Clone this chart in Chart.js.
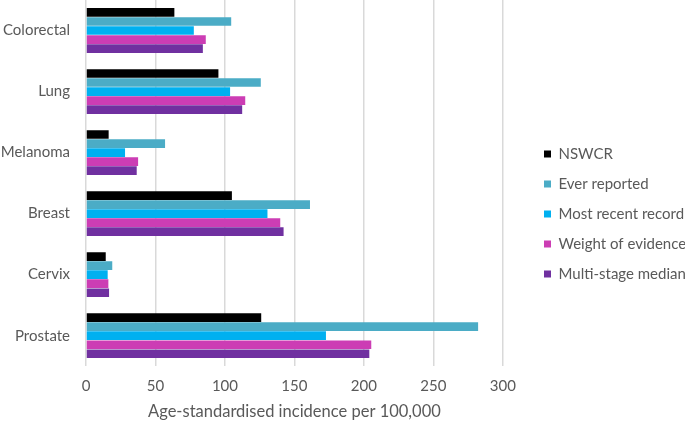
<!DOCTYPE html>
<html lang="en">
<head>
<meta charset="UTF-8">
<title>Age-standardised incidence</title>
<script src="https://cdn.jsdelivr.net/npm/chart.js"></script>
<style>
  body { margin: 0; background: #fff; }
  #wrap { width: 685px; height: 422px; }
</style>
</head>
<body>
<div id="wrap"><canvas id="chart"></canvas></div>
<script>
const categories = ['Colorectal', 'Lung', 'Melanoma', 'Breast', 'Cervix', 'Prostate'];
const nswcr = [63.6, 95.3, 16.3, 105.0, 14.2, 126.1];
const everReported = [104.5, 125.8, 56.9, 161.2, 18.9, 282.2];
const mostRecent = [77.6, 103.7, 28.1, 130.6, 15.6, 172.7];
const weightOfEvidence = [86.2, 114.6, 37.5, 139.8, 16.1, 205.3];
const multiStage = [84.1, 112.4, 36.5, 142.2, 16.6, 203.9];
const xTicks = [0, 50, 100, 150, 200, 250, 300];

const font = "Lato, 'Open Sans', sans-serif";
const grey = '#595959';

function ds(label, data, color) {
    return { label: label, data: data, backgroundColor: color, borderWidth: 0,
             barPercentage: 0.96, categoryPercentage: 0.74 };
}

// move the legend a bit right/down of where the layout puts it
const legendShift = {
    id: 'legendShift',
    afterLayout(chart) {
        const lg = chart.legend;
        const dx = 529 - lg.left;
        lg.left += dx; lg.right += dx;
        lg.top += 3; lg.bottom += 3;
    }
};

new Chart(document.getElementById('chart'), {
    type: 'bar',
    data: {
        labels: categories,
        datasets: [
            ds('NSWCR', nswcr, '#000000'),
            ds('Ever reported', everReported, '#4BACC6'),
            ds('Most recent record', mostRecent, '#00B0F0'),
            ds('Weight of evidence', weightOfEvidence, '#CC3DB4'),
            ds('Multi-stage median', multiStage, '#7030A0')
        ]
    },
    plugins: [legendShift],
    options: {
        indexAxis: 'y',
        responsive: true,
        maintainAspectRatio: false,
        animation: false,
        layout: { autoPadding: false, padding: { top: 0, right: 15, bottom: 0, left: 0 } },
        plugins: {
            tooltip: { enabled: false },
            legend: {
                position: 'right',
                labels: {
                    boxWidth: 7, boxHeight: 7, padding: 15,
                    color: grey, font: { family: font, size: 15 }
                }
            }
        },
        scales: {
            x: {
                min: 0, max: 300,
                afterBuildTicks: axis => { axis.ticks = xTicks.map(v => ({ value: v })); },
                grid: { color: '#d9d9d9', lineWidth: 1.5, drawTicks: true, tickLength: 7, tickColor: 'rgba(0,0,0,0)' },
                border: { display: false },
                ticks: { color: grey, font: { family: font, size: 15 }, padding: 4 },
                title: { display: true, text: 'Age-standardised incidence per 100,000',
                         color: grey, font: { family: font, size: 16.5 }, padding: { top: 3, bottom: 0 } }
            },
            y: {
                afterFit: axis => { axis.width = 86; axis.paddingTop = 0; axis.paddingBottom = 0; },
                grid: { display: false, drawTicks: false },
                border: { display: false },
                ticks: { color: grey, font: { family: font, size: 15 }, padding: 16 }
            }
        }
    }
});
</script>
</body>
</html>
